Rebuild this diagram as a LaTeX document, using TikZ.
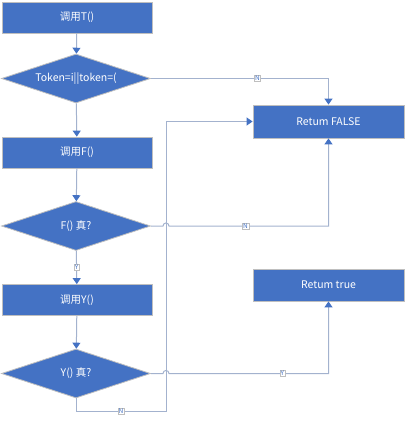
\documentclass[tikz,border=0pt]{standalone}
\usepackage{fontspec}
\setmainfont{Noto Sans CJK SC}
\usetikzlibrary{shapes.geometric,arrows.meta}
\definecolor{fillb}{HTML}{4472C4}
\definecolor{edgeg}{HTML}{A3B2CE}
\definecolor{bord}{HTML}{BFBFBF}
\begin{document}
\begin{tikzpicture}[x=1pt,y=-1pt, font=\fontsize{10.5}{12}\selectfont,
 box/.style={rectangle, fill=fillb, draw=bord, line width=0.8pt, text=white, minimum width=150pt, minimum height=31pt, inner sep=0},
 dia/.style={diamond, shape aspect=3.04, fill=fillb, draw=bord, line width=0.8pt, text=white, minimum width=149pt, minimum height=49pt, inner sep=0},
 conn/.style={draw=edgeg, line width=1pt, -{Triangle[length=6pt,width=8pt,color=fillb]}},
 lbl/.style={fill=white, draw=bord, line width=0.4pt, text=fillb, inner sep=0.8pt, font=\fontsize{6.5}{7}\selectfont}]
\useasboundingbox (0,0) rectangle (407,424);
\node[box] (T) at (77,17.5) {调用T()};
\node[dia] (D1) at (76,78.5) {Token=i||token=(};
\node[box] (F) at (77,152.5) {调用F()};
\node[dia] (D2) at (76,226) {F() 真?};
\node[box] (Y) at (77,300) {调用Y()};
\node[dia] (D3) at (76,373.5) {Y() 真?};
\node[box, minimum width=151pt, minimum height=33pt] (FALSE) at (328.5,121.5) {Retum FALSE};
\node[box, minimum width=151pt, minimum height=32pt] (TRUE) at (328.5,285) {Retum true};
\coordinate (j2a) at (163,226);
\coordinate (j2b) at (169,226);
\coordinate (j3a) at (163,373.5);
\coordinate (j3b) at (169,373.5);
\coordinate (lp) at (166,411);
\draw[conn] (T) -- (D1);
\draw[conn] (D1) -- (F);
\draw[conn] (F) -- (D2);
\draw[conn] (D2) -- node[lbl]{Y} (Y);
\draw[conn] (Y) -- (D3);
\draw[conn] (D1.east) -- node[lbl,pos=0.6]{N} (D1.east -| FALSE) -- (FALSE.north);
\draw[conn] (D3.south) |- node[lbl,pos=0.75]{N} (lp) |- (FALSE.west);
\draw[conn] (D2.east) -- (j2a) .. controls (163,222) and (169,222) .. (j2b) -- node[lbl,pos=0.48]{N} (FALSE.south |- D2.east) -- (FALSE.south);
\draw[conn] (D3.east) -- (j3a) .. controls (163,369.5) and (169,369.5) .. (j3b) -- node[lbl,pos=0.71]{Y} (TRUE.south |- D3.east) -- (TRUE.south);
\end{tikzpicture}
\end{document}
